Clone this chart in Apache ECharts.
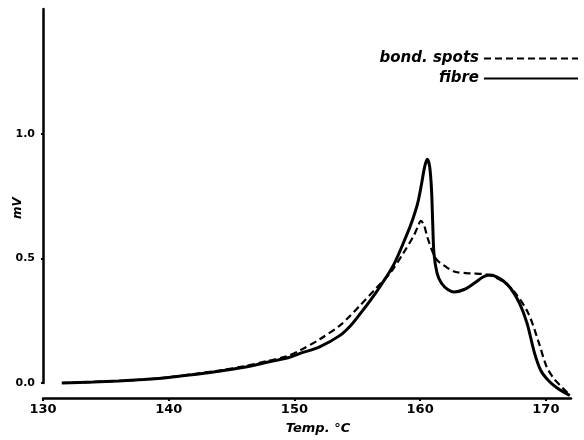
<!DOCTYPE html>
<html>
<head>
<meta charset="utf-8">
<script src="https://cdn.jsdelivr.net/npm/echarts@6/dist/echarts.min.js"></script>
<style>
  html, body { margin: 0; padding: 0; background: #fff; }
  #chart { width: 584px; height: 440px; }
</style>
</head>
<body>
<div id="chart"></div>
<script>
// DSC traces: temperature (°C) against signal (mV)
const fibreT  = [131.5, 134, 136, 138, 140, 142, 144, 146, 148, 149.4, 150.4, 152, 153.6, 154.5, 155.3, 156.1, 156.8, 157.9, 158.9, 159.4, 159.8, 160.1, 160.35, 160.56, 160.75, 160.9, 161.0, 161.1, 161.35, 161.7, 162.2, 162.7, 163.5, 164.3, 165.0, 165.5, 166.0, 166.6, 167.2, 167.9, 168.5, 169.1, 169.6, 170.2, 170.9, 171.9];
const fibreMV = [0, 0.004, 0.008, 0.014, 0.022, 0.034, 0.047, 0.063, 0.085, 0.10, 0.118, 0.145, 0.19, 0.232, 0.282, 0.335, 0.386, 0.475, 0.59, 0.655, 0.72, 0.795, 0.865, 0.897, 0.87, 0.78, 0.64, 0.52, 0.44, 0.40, 0.375, 0.365, 0.375, 0.40, 0.425, 0.433, 0.428, 0.41, 0.38, 0.32, 0.24, 0.12, 0.05, 0.01, -0.02, -0.05];

const spotsT  = [131.5, 134, 136, 138, 140, 142, 144, 146, 148, 149.4, 150.4, 152, 153.6, 154.4, 155.2, 156.5, 157.6, 158.65, 159.45, 159.8, 160.06, 160.3, 160.56, 161.04, 161.4, 161.84, 162.77, 164, 165.3, 166.5, 167.5, 168.6, 169.4, 170.06, 170.6, 171.1, 171.9];
const spotsMV = [0, 0.004, 0.008, 0.014, 0.023, 0.036, 0.05, 0.067, 0.09, 0.107, 0.13, 0.175, 0.23, 0.268, 0.31, 0.38, 0.44, 0.52, 0.587, 0.625, 0.65, 0.635, 0.587, 0.52, 0.49, 0.473, 0.446, 0.44, 0.435, 0.41, 0.365, 0.28, 0.168, 0.065, 0.02, -0.008, -0.048];

const xTicks = [130, 140, 150, 160, 170];
const yTicks = [0, 0.5, 1.0];

const seriesNames = ['bond. spots', 'fibre'];

const zip = (xs, ys) => xs.map((x, i) => [x, ys[i]]);

const hand = 'DejaVu Sans';

const chart = echarts.init(document.getElementById('chart'), null, { renderer: 'canvas' });

chart.setOption({
  backgroundColor: '#ffffff',
  animation: false,
  grid: { left: 43, right: 13, top: 9, bottom: 57, outerBoundsMode: 'none', containLabel: false },
  legend: {
    data: seriesNames,
    orient: 'vertical',
    align: 'right',
    right: 0,
    top: 46,
    itemWidth: 94,
    itemHeight: 14,
    itemGap: 5,
    itemStyle: { opacity: 0 },
    textStyle: { fontFamily: hand, fontWeight: 'bold', fontStyle: 'italic', fontSize: 15, color: '#000' }
  },
  xAxis: {
    type: 'value',
    min: 130,
    max: 172,
    interval: 10,
    offset: 15,
    name: 'Temp. °C',
    nameLocation: 'middle',
    nameGap: 24,
    nameMoveOverlap: false,
    nameTextStyle: { fontFamily: hand, fontWeight: 'bold', fontStyle: 'italic', fontSize: 13, color: '#000', padding: [0, 0, 0, 22] },
    axisLine: { show: true, onZero: false, lineStyle: { color: '#000', width: 2.5 } },
    axisTick: { show: true, inside: false, length: 3, customValues: xTicks, lineStyle: { color: '#000', width: 2 } },
    axisLabel: { customValues: xTicks, margin: 5, fontFamily: hand, fontWeight: 'bold', fontSize: 13, color: '#000' },
    splitLine: { show: false }
  },
  yAxis: {
    type: 'value',
    min: 0,
    max: 1.5,
    interval: 0.5,
    name: 'mV',
    nameLocation: 'middle',
    nameGap: 19,
    nameMoveOverlap: false,
    nameTextStyle: { fontFamily: hand, fontWeight: 'bold', fontStyle: 'italic', fontSize: 12, color: '#000', padding: [0, 24, 0, 0] },
    axisLine: { show: true, lineStyle: { color: '#000', width: 2.5 } },
    axisTick: { show: true, length: 2, customValues: yTicks, lineStyle: { color: '#000', width: 2 } },
    axisLabel: {
      customValues: yTicks,
      margin: 8,
      fontFamily: hand, fontWeight: 'bold', fontSize: 11, color: '#000',
      formatter: v => v.toFixed(1)
    },
    splitLine: { show: false }
  },
  series: [
    {
      name: seriesNames[0],
      type: 'line',
      data: zip(spotsT, spotsMV),
      symbol: 'none',
      smooth: 0.3,
      clip: false,
      lineStyle: { color: '#000', width: 2.2, type: [7, 4] },
      itemStyle: { color: '#000' }
    },
    {
      name: seriesNames[1],
      type: 'line',
      data: zip(fibreT, fibreMV),
      symbol: 'none',
      smooth: 0.3,
      clip: false,
      lineStyle: { color: '#000', width: 3 },
      itemStyle: { color: '#000' }
    }
  ]
});
</script>
</body>
</html>
